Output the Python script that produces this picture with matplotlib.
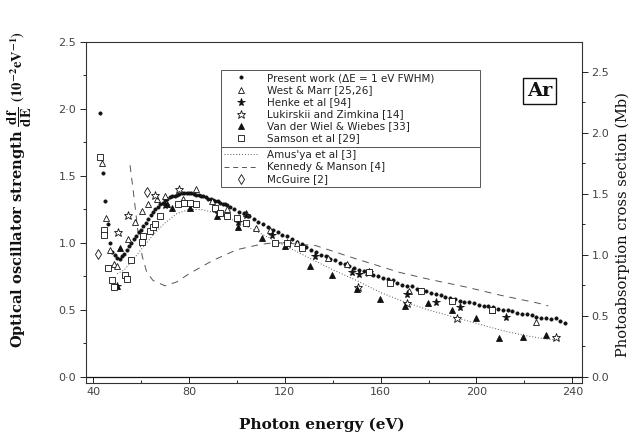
import matplotlib
matplotlib.use("Agg")
import matplotlib.pyplot as plt
from matplotlib.lines import Line2D
from matplotlib.ticker import FixedLocator, MultipleLocator

plt.rcParams["mathtext.fontset"] = "stix"

# ---- data (E in eV, df/dE in 1e-2 eV^-1) ----
present_E = [43, 44, 45, 46, 47, 48, 49, 50, 51, 52, 53, 54, 55, 56, 57, 58, 59, 60,
             61, 62, 63, 64, 65, 66, 67, 68, 69, 70, 71, 72, 73, 74, 75, 76, 77, 78,
             79, 80, 81, 82, 83, 84, 85, 86, 87, 88, 89, 90, 91, 92, 93, 94, 95, 96, 97,
             99, 101, 103, 105, 107, 109, 111, 113, 115, 117, 119, 121, 123, 125, 127,
             129, 131, 133, 135, 137, 139, 141, 143, 145, 147, 149, 151, 153, 155, 157,
             159, 161, 163, 165, 167, 169, 171, 173, 175, 177, 179, 181, 183, 185, 187,
             189, 191, 193, 195, 197, 199, 201, 203, 205, 207, 209, 211, 213, 215, 217,
             219, 221, 223, 225, 227, 229, 231, 233, 235, 237]
present_f = [1.97, 1.52, 1.31, 1.14, 1.00, 0.93, 0.91, 0.89, 0.88, 0.90, 0.92, 0.95, 0.98,
             1.00, 1.03, 1.05, 1.08, 1.10, 1.13, 1.15, 1.18, 1.21, 1.23, 1.25, 1.27, 1.29,
             1.30, 1.32, 1.33, 1.34, 1.35, 1.35, 1.36, 1.365, 1.37, 1.37, 1.37, 1.37, 1.37,
             1.365, 1.36, 1.36, 1.35, 1.35, 1.34, 1.33, 1.33, 1.32, 1.31, 1.31, 1.30, 1.29,
             1.29, 1.28, 1.27,
             1.25, 1.23, 1.22, 1.20, 1.18, 1.16, 1.14, 1.12, 1.10, 1.08, 1.06, 1.05, 1.03,
             1.01, 0.99, 0.97, 0.95, 0.93, 0.91, 0.90, 0.88, 0.87, 0.85, 0.84, 0.83, 0.81,
             0.80, 0.79, 0.78, 0.76, 0.75, 0.74, 0.73, 0.72, 0.70, 0.69, 0.68, 0.68, 0.66,
             0.65, 0.64, 0.63, 0.62, 0.61, 0.60, 0.59, 0.58, 0.57, 0.56, 0.56, 0.55, 0.54,
             0.53, 0.53, 0.52, 0.51, 0.50, 0.50, 0.49, 0.48, 0.47, 0.47, 0.46, 0.45, 0.44,
             0.44, 0.43, 0.44, 0.42, 0.40]

west_E = [43.6, 45.3, 47, 48.5, 50, 54.6, 57.5, 60.3, 63, 66.5, 70, 77.5, 83, 89.6, 96,
          104, 108, 113.7, 125, 138, 146, 154.7, 172, 206.7, 225]
west_f = [1.60, 1.19, 0.95, 0.84, 0.83, 1.03, 1.16, 1.24, 1.29, 1.33, 1.35, 1.33, 1.40,
          1.31, 1.25, 1.22, 1.11, 1.10, 1.00, 0.89, 0.84, 0.78, 0.64, 0.50, 0.41]

henke_E = [50, 70, 92, 100.5, 104, 114.6, 132.5, 148, 151, 171, 183, 193, 212.5]
henke_f = [0.68, 1.28, 1.22, 1.16, 1.21, 1.06, 0.90, 0.78, 0.77, 0.62, 0.56, 0.52, 0.45]

luk_E = [50.3, 54.6, 65.8, 76, 121, 150.4, 155, 171, 192, 233]
luk_f = [1.08, 1.21, 1.36, 1.40, 1.00, 0.67, 0.78, 0.55, 0.44, 0.30]

wiel_E = [50, 51.3, 70.7, 73, 80.4, 91.6, 100.5, 110.4, 120, 130.4, 139.5, 150, 159.6,
          170, 179.6, 189.6, 200, 209.6, 219.6, 229]
wiel_f = [0.68, 0.96, 1.29, 1.26, 1.26, 1.20, 1.12, 1.04, 0.98, 0.83, 0.76, 0.66, 0.58,
          0.53, 0.55, 0.50, 0.44, 0.29, 0.30, 0.31]

samson_E = [42.9, 44.7, 44.7, 46.3, 47.8, 48.8, 53.3, 54, 56, 60.3, 61, 63.8, 65, 65.7,
            68, 75.4, 78, 80.5, 83, 91, 93, 96, 100, 104, 116, 120.8, 127, 155, 164, 177,
            190, 206.7]
samson_f = [1.64, 1.10, 1.06, 0.81, 0.72, 0.67, 0.76, 0.73, 0.87, 1.01, 1.05, 1.09, 1.12,
            1.14, 1.20, 1.29, 1.30, 1.30, 1.29, 1.26, 1.22, 1.20, 1.19, 1.15, 1.00, 1.00,
            0.96, 0.78, 0.70, 0.64, 0.57, 0.50]

mcguire_E = [42, 62.4]
mcguire_f = [0.92, 1.38]

amusya_E = [50, 53, 56, 60, 65, 70, 75, 80, 85, 90, 100, 110, 120, 130, 140, 150, 160,
            170, 180, 190, 200, 210, 220, 230, 235]
amusya_f = [0.77, 0.80, 0.86, 0.95, 1.06, 1.15, 1.22, 1.25, 1.25, 1.23, 1.16, 1.07, 0.98,
            0.89, 0.80, 0.72, 0.63, 0.56, 0.50, 0.45, 0.40, 0.35, 0.31, 0.28, 0.28]

kennedy_E = [55.4, 57, 58.8, 60.5, 62.4, 65, 70, 75, 80, 90, 100, 110, 115, 120, 133, 150,
             168, 180, 196, 210, 226, 230]
kennedy_f = [1.58, 1.35, 1.07, 0.90, 0.78, 0.72, 0.68, 0.71, 0.77, 0.87, 0.95, 0.99, 1.00,
             1.00, 0.98, 0.88, 0.78, 0.73, 0.67, 0.61, 0.55, 0.53]

MB_PER_UNIT = 1.0975  # 1e-2 eV^-1 of df/dE -> Mb

fig = plt.figure(figsize=(6.44, 4.42), dpi=100)
ax = fig.add_axes([0.1335, 0.1335, 0.770, 0.7715])
tick_font = dict(family="DejaVu Sans", size=8, color="#444")
ink = "#111"

ax.plot(amusya_E, amusya_f, ls=(0, (1, 2)), lw=0.7, c="#555")
ax.plot(kennedy_E, kennedy_f, ls=(0, (7, 6)), lw=0.7, c="#555")
ax.axhline(0.0, c=ink, lw=0.9)

mk = dict(ls="none", mec=ink, mew=0.6)
sty = {"present": dict(marker="o", ms=2.3, mfc=ink),
       "west": dict(marker="^", ms=4.3, mfc="white"),
       "henke": dict(marker="*", ms=5.8, mfc=ink),
       "luk": dict(marker="*", ms=6.3, mfc="white"),
       "wiel": dict(marker="^", ms=4.3, mfc=ink),
       "samson": dict(marker="s", ms=4.0, mfc="white"),
       "mcguire": dict(marker="d", ms=5.5, mfc="white")}
ax.plot(present_E, present_f, **sty["present"], **mk)
ax.plot(west_E, west_f, **sty["west"], **mk)
ax.plot(henke_E, henke_f, **sty["henke"], **mk)
ax.plot(luk_E, luk_f, **sty["luk"], **mk)
ax.plot(wiel_E, wiel_f, **sty["wiel"], **mk)
ax.plot(samson_E, samson_f, **sty["samson"], **mk)
ax.plot(mcguire_E, mcguire_f, **sty["mcguire"], **mk)

ax.set_xlim(37, 244)
ax.set_ylim(-0.045, 2.5)
ax.xaxis.set_major_locator(FixedLocator([40, 80, 120, 160, 200, 240]))
ax.xaxis.set_minor_locator(FixedLocator([60, 100, 140, 180, 220]))
ax.set_xticklabels(["40", "80", "120", "160", "200", "240"], **tick_font)
ax.yaxis.set_major_locator(FixedLocator([0, 0.5, 1.0, 1.5, 2.0, 2.5]))
ax.yaxis.set_minor_locator(MultipleLocator(0.25))
ax.set_yticklabels(["0·0", "0.5", "1.0", "1.5", "2·0", "2.5"], **tick_font)
ax.tick_params(axis="x", which="both", direction="in", top=False, length=4, width=0.6, pad=3)
ax.tick_params(axis="x", which="minor", length=2.5)
ax.tick_params(axis="y", which="both", direction="out", length=4, width=0.6, pad=3)
ax.tick_params(axis="y", which="minor", length=2)
for s in ax.spines.values():
    s.set_linewidth(0.8)
    s.set_color("#333")

ax2 = ax.twinx()
ax2.set_ylim(-0.045 * MB_PER_UNIT, 2.5 * MB_PER_UNIT)
ax2.yaxis.set_major_locator(FixedLocator([0, 0.5, 1.0, 1.5, 2.0, 2.5]))
ax2.yaxis.set_minor_locator(MultipleLocator(0.25))
ax2.set_yticklabels(["0.0", "0.5", "1.0", "1.5", "2.0", "2.5"], **tick_font)
ax2.tick_params(axis="y", which="both", direction="out", length=4, width=0.6, pad=3)
ax2.tick_params(axis="y", which="minor", length=2)
for s in ax2.spines.values():
    s.set_visible(False)

# axis titles
lab = dict(family="DejaVu Serif", size=11, weight="bold", color=ink)
fig.text(322 / 644, 1 - 425 / 442, "Photon energy (eV)", ha="center", va="center", **lab)
fig.text(20 / 644, 1 - 190 / 442,
         r"Optical oscillator strength $\mathbf{\dfrac{df}{dE}}$ $\mathbf{(10^{-2}eV^{-1})}$",
         rotation=90, ha="center", va="center", family="DejaVu Serif", size=10.5,
         weight="bold", color=ink)
fig.text(623 / 644, 1 - 225 / 442, "Photoabsorption cross section (Mb)", rotation=90,
         ha="center", va="center", family="DejaVu Serif", size=10.5, color=ink)

ax.text(0.915, 0.857, "Ar", transform=ax.transAxes, ha="center", va="center",
        family="DejaVu Serif", weight="bold", size=14, color=ink,
        bbox=dict(boxstyle="square,pad=0.2", fc="white", ec=ink, lw=1.0))

# legend in two stacked boxes
h1 = [Line2D([], [], **sty[k], **mk) for k in ["present", "west", "henke", "luk", "wiel", "samson"]]
l1 = ["Present work (ΔE = 1 eV FWHM)", "West & Marr [25,26]", "Henke et al [94]",
      "Lukirskii and Zimkina [14]", "Van der Wiel & Wiebes [33]", "Samson et al [29]"]
h2 = [Line2D([], [], ls=(0, (1, 2)), lw=0.7, c="#555"),
      Line2D([], [], ls=(0, (5, 4)), lw=0.7, c="#555"),
      Line2D([], [], **sty["mcguire"], **mk)]
l2 = ["Amus'ya et al [3]", "Kennedy & Manson [4]", "McGuire [2]"]
leg_kw = dict(loc="upper left", mode="expand", fancybox=False, framealpha=1,
              edgecolor="#555", prop=dict(family="DejaVu Sans", size=7.5),
              handlelength=3.2, handletextpad=0.9, labelspacing=0.2, borderpad=0.3,
              borderaxespad=0)
leg1 = ax.legend(h1, l1, bbox_to_anchor=(0.272, 0.918, 0.522, 0.0), **leg_kw)
leg1.get_frame().set_linewidth(0.7)
ax.add_artist(leg1)
leg2 = ax.legend(h2, l2, bbox_to_anchor=(0.272, 0.692, 0.522, 0.0), **leg_kw)
leg2.get_frame().set_linewidth(0.7)
for t in leg1.get_texts() + leg2.get_texts():
    t.set_color("#222")

fig.savefig("out.png", dpi=100)
